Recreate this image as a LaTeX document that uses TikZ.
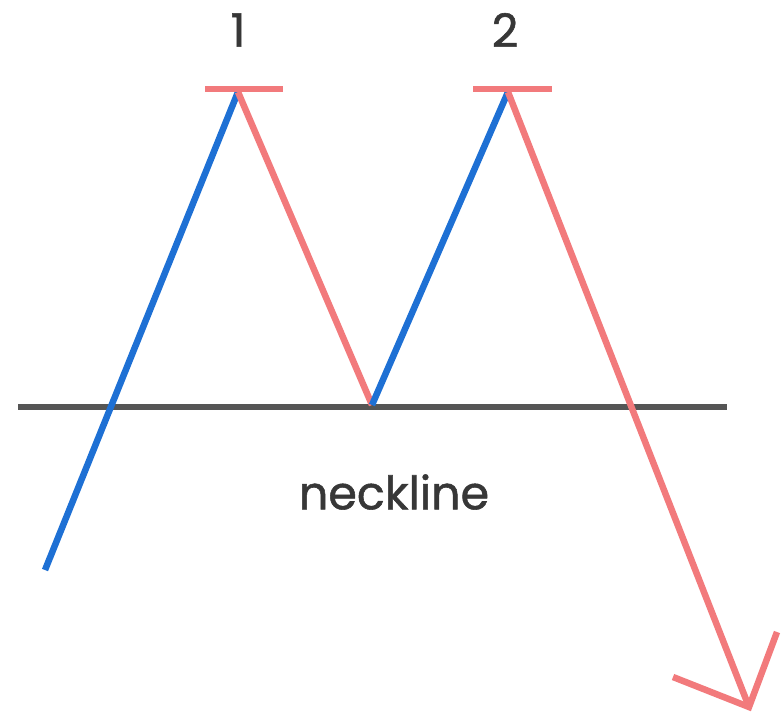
\documentclass[tikz,border=0pt]{standalone}
\usepackage{fontspec}
\setmainfont{Poppins}[FakeBold=1.2]
\definecolor{upblue}{RGB}{30,112,212}
\definecolor{downred}{RGB}{242,122,124}
\definecolor{neckgray}{RGB}{85,85,85}
\definecolor{labelgray}{RGB}{55,55,55}
\tikzset{
  upline/.style={draw=upblue,line width=6.5pt},
  downline/.style={draw=downred,line width=6.5pt},
  neck/.style={draw=neckgray,line width=6pt},
  lbl/.style={text=labelgray,font=\fontsize{46}{50}\selectfont,inner sep=0pt}
}
\begin{document}
\begin{tikzpicture}[x=1pt,y=-1pt]
\useasboundingbox (0,0) rectangle (781,715);
\coordinate (start) at (45,570);
\coordinate (p1) at (238,92);
\coordinate (trough) at (372,405);
\coordinate (p2) at (508,92);
\coordinate (tip) at (749,707);
\coordinate (armL) at (673,677);
\coordinate (armR) at (777,632);
\coordinate (nl) at (18,407);
\coordinate (nr) at (727,407);
\coordinate (b1l) at (205,89);
\coordinate (b1r) at (283,89);
\coordinate (b2l) at (473,89);
\coordinate (b2r) at (552,89);
\draw[neck] (nl) -- (nr);
\draw[upline] (start) -- (p1);
\draw[downline] (p1) -- (trough);
\draw[upline] (trough) -- (p2);
\draw[downline] (p2) -- (tip);
\draw[downline,line join=miter] (armL) -- (tip) -- (armR);
\draw[downline] (b1l) -- (b1r);
\draw[downline] (b2l) -- (b2r);
\node[lbl] (one) at (238,30) {1};
\node[lbl] (two) at (505,30) {2};
\node[lbl] (neckline) at (394,492) {neckline};
\end{tikzpicture}
\end{document}
